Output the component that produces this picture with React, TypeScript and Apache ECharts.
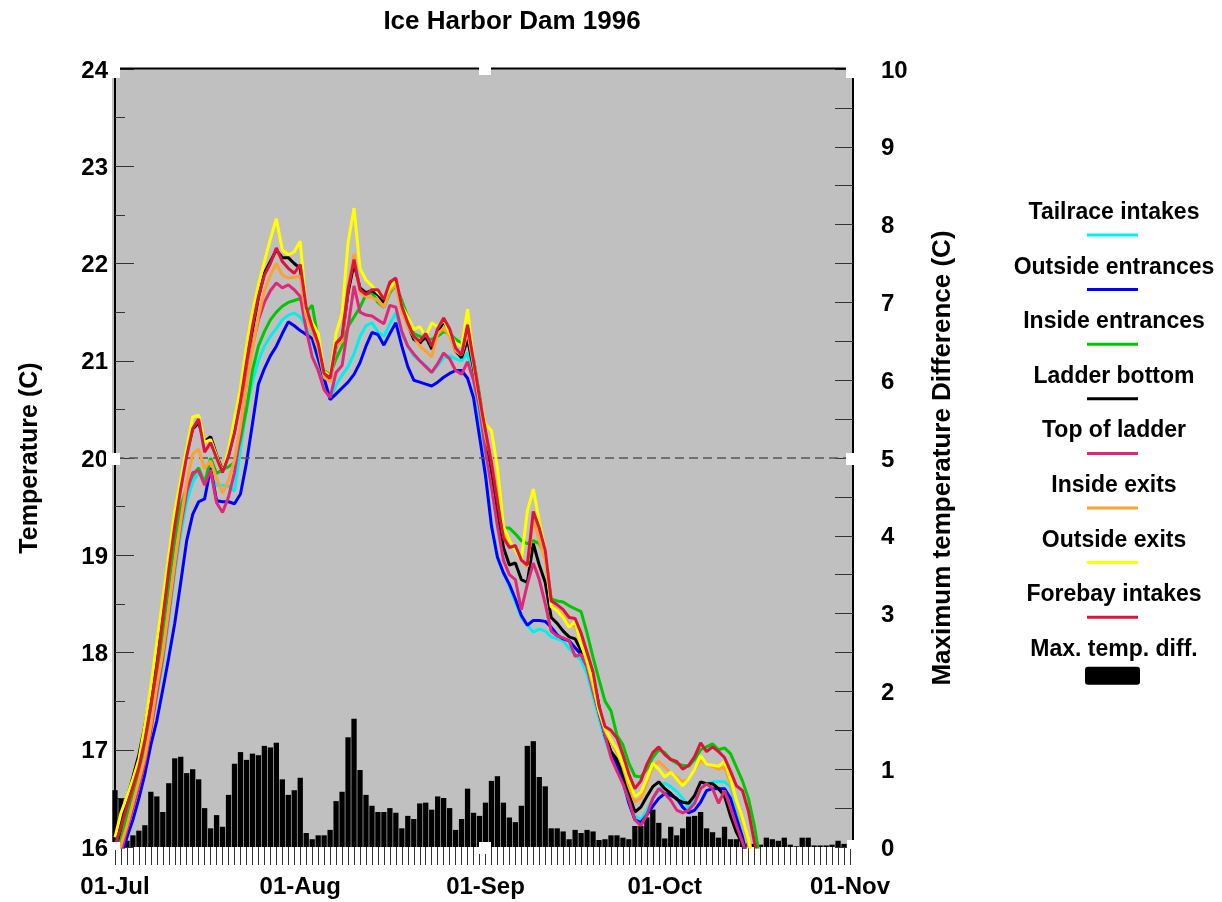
import React, { useEffect, useRef } from 'react';
import * as echarts from 'echarts';

const seriesNames = ['Tailrace intakes', 'Outside entrances', 'Inside entrances', 'Ladder bottom', 'Top of ladder', 'Inside exits', 'Outside exits', 'Forebay intakes'];
const seriesColors = ['#00F0F0', '#0000FF', '#00C800', '#000000', '#E0287A', '#FFA030', '#FFFF00', '#DC143C'];
const barName = 'Max. temp. diff.';

// daily values, index 0 = 01-Jul-1996
const tailrace = [15.7, 15.95, 16.20, 16.42, 16.68, 16.92, 17.22, 17.55, 17.90, 18.35,
  18.82, 19.22, 19.55, 19.75, 19.85, 19.78, 19.81, 19.72, 19.72, 19.71,
  19.66, 20.09, 20.50, 20.78, 21.00, 21.15, 21.25, 21.33, 21.42, 21.47,
  21.49, 21.45, 21.35, 21.20, 21.00, 20.80, 20.60, 20.75, 20.85, 20.94,
  21.07, 21.25, 21.36, 21.39, 21.30, 21.25, 21.38, 21.49, 21.28, 21.15,
  21.05, 21.00, 20.95, 20.88, 20.95, 21.03, 21.05, 21.02, 21.00, 21.08,
  20.80, 20.38, 19.85, 19.32, 18.98, 18.82, 18.68, 18.52, 18.36, 18.28,
  18.21, 18.24, 18.22, 18.16, 18.14, 18.12, 18.04, 17.98, 17.92, 17.78,
  17.55, 17.32, 17.10, 16.95, 16.82, 16.65, 16.45, 16.32, 16.28, 16.38,
  16.50, 16.58, 16.66, 16.62, 16.57, 16.50, 16.40, 16.48, 16.60, 16.65,
  16.67, 16.67, 16.67, 16.62, 16.35, 16.12, 15.85];
const outsideEntrances = [15.6, 15.90, 16.10, 16.28, 16.50, 16.75, 17.05, 17.30, 17.62, 17.95,
  18.30, 18.72, 19.15, 19.42, 19.55, 19.58, 19.90, 19.56, 19.55, 19.55,
  19.53, 19.63, 19.95, 20.35, 20.76, 20.92, 21.05, 21.15, 21.28, 21.40,
  21.36, 21.31, 21.27, 21.23, 21.02, 20.82, 20.60, 20.66, 20.72, 20.78,
  20.86, 20.98, 21.15, 21.29, 21.27, 21.16, 21.28, 21.39, 21.15, 20.94,
  20.80, 20.78, 20.76, 20.74, 20.78, 20.83, 20.87, 20.90, 20.90, 20.82,
  20.62, 20.22, 19.82, 19.30, 18.98, 18.82, 18.70, 18.55, 18.38, 18.28,
  18.33, 18.33, 18.32, 18.26, 18.18, 18.14, 18.12, 18.05, 17.98, 17.86,
  17.62, 17.38, 17.15, 16.98, 16.85, 16.68, 16.45, 16.28, 16.25, 16.33,
  16.42, 16.50, 16.55, 16.53, 16.50, 16.41, 16.35, 16.38, 16.46, 16.58,
  16.60, 16.60, 16.60, 16.50, 16.30, 16.10, 15.85];
const insideEntrances = [15.9, 16.08, 16.32, 16.55, 16.78, 17.02, 17.35, 17.75, 18.20, 18.70,
  19.15, 19.50, 19.70, 19.82, 19.90, 19.74, 20.00, 19.84, 19.88, 19.91,
  19.95, 20.19, 20.50, 20.90, 21.15, 21.30, 21.42, 21.50, 21.56, 21.60,
  21.62, 21.64, 21.50, 21.57, 21.22, 20.90, 20.85, 21.02, 21.15, 21.35,
  21.45, 21.55, 21.68, 21.70, 21.60, 21.55, 21.70, 21.78, 21.62, 21.45,
  21.28, 21.25, 21.22, 21.22, 21.25, 21.30, 21.28, 21.22, 21.18, 21.20,
  21.02, 20.65, 20.25, 19.95, 19.60, 19.28, 19.28, 19.22, 19.15, 19.12,
  19.15, 19.12, 19.00, 18.55, 18.53, 18.52, 18.48, 18.45, 18.42, 18.20,
  17.95, 17.72, 17.50, 17.40, 17.15, 17.05, 16.86, 16.73, 16.72, 16.80,
  16.92, 17.00, 16.97, 16.90, 16.86, 16.84, 16.83, 16.90, 17.00, 17.03,
  17.06, 17.00, 17.02, 16.96, 16.82, 16.68, 16.50, 16.22, 15.85];
const ladderBottom = [16.08, 16.28, 16.50, 16.72, 16.95, 17.25, 17.60, 17.95, 18.45, 18.95,
  19.40, 19.75, 20.05, 20.30, 20.36, 20.17, 20.22, 20.03, 19.87, 20.03,
  20.28, 20.62, 21.00, 21.32, 21.65, 21.90, 22.02, 22.14, 22.06, 22.06,
  22.00, 21.95, 21.47, 21.35, 21.15, 20.85, 20.80, 21.15, 21.22, 21.70,
  22.00, 21.75, 21.70, 21.72, 21.68, 21.60, 21.78, 21.82, 21.54, 21.37,
  21.22, 21.18, 21.25, 21.12, 21.30, 21.40, 21.30, 21.10, 21.03, 21.22,
  20.92, 20.55, 20.18, 19.85, 19.45, 19.08, 18.90, 18.92, 18.75, 18.72,
  19.12, 18.90, 18.72, 18.36, 18.30, 18.22, 18.16, 18.14, 18.02, 17.90,
  17.75, 17.45, 17.15, 16.98, 16.90, 16.75, 16.55, 16.36, 16.41, 16.52,
  16.62, 16.67, 16.60, 16.55, 16.49, 16.46, 16.45, 16.53, 16.67, 16.65,
  16.65, 16.60, 16.52, 16.32, 16.15, 16.03, 15.80];
const topOfLadder = [15.7, 15.95, 16.18, 16.40, 16.62, 16.87, 17.20, 17.58, 17.95, 18.40,
  18.88, 19.30, 19.65, 19.85, 19.87, 19.72, 19.88, 19.54, 19.44, 19.60,
  19.85, 20.26, 20.80, 21.15, 21.42, 21.60, 21.72, 21.80, 21.75, 21.78,
  21.73, 21.66, 21.32, 21.04, 20.90, 20.70, 20.62, 20.88, 20.95, 21.35,
  21.77, 21.50, 21.47, 21.46, 21.42, 21.38, 21.57, 21.55, 21.30, 21.15,
  21.07, 21.00, 20.94, 20.88, 20.97, 21.08, 21.02, 20.90, 20.86, 20.99,
  20.80, 20.52, 20.08, 19.70, 19.30, 18.95, 18.80, 18.75, 18.44, 18.70,
  18.92, 18.75, 18.50, 18.22, 18.17, 18.15, 18.12, 17.96, 17.98, 17.85,
  17.60, 17.38, 17.15, 16.92, 16.78, 16.65, 16.48, 16.28, 16.22, 16.33,
  16.50, 16.60, 16.55, 16.48, 16.38, 16.35, 16.38, 16.45, 16.60, 16.65,
  16.60, 16.45, 16.58, 16.40, 16.22, 16.05, 15.85];
const insideExits = [15.8, 16.02, 16.22, 16.45, 16.68, 16.92, 17.25, 17.65, 18.00, 18.45,
  18.92, 19.35, 19.75, 20.04, 20.09, 19.89, 19.97, 19.79, 19.64, 19.77,
  19.98, 20.33, 20.75, 21.12, 21.45, 21.72, 21.88, 22.00, 21.88, 21.85,
  21.86, 21.87, 21.45, 21.30, 21.12, 20.83, 20.78, 21.15, 21.20, 21.75,
  22.10, 21.70, 21.66, 21.65, 21.62, 21.55, 21.72, 21.78, 21.50, 21.35,
  21.25, 21.15, 21.10, 21.04, 21.28, 21.33, 21.26, 21.10, 21.06, 21.30,
  20.95, 20.58, 20.22, 19.98, 19.62, 19.25, 19.10, 19.08, 18.95, 18.88,
  19.38, 19.15, 18.95, 18.48, 18.44, 18.38, 18.28, 18.28, 18.10, 17.90,
  17.65, 17.40, 17.20, 17.08, 16.98, 16.82, 16.62, 16.46, 16.50, 16.66,
  16.82, 16.88, 16.82, 16.76, 16.72, 16.67, 16.70, 16.80, 16.90, 16.85,
  16.83, 16.80, 16.82, 16.65, 16.45, 16.25, 16.02, 15.80];
const outsideExits = [16.10, 16.35, 16.52, 16.70, 16.90, 17.25, 17.65, 18.10, 18.55, 19.00,
  19.45, 19.78, 20.10, 20.42, 20.44, 20.16, 20.19, 20.02, 19.85, 20.09,
  20.40, 20.72, 21.15, 21.50, 21.78, 22.02, 22.25, 22.46, 22.14, 22.09,
  22.12, 22.23, 21.52, 21.39, 21.28, 20.89, 20.84, 21.28, 21.49, 22.21,
  22.57, 21.95, 21.83, 21.77, 21.70, 21.64, 21.75, 21.83, 21.56, 21.45,
  21.32, 21.35, 21.25, 21.39, 21.35, 21.42, 21.28, 21.18, 21.15, 21.53,
  21.00, 20.60, 20.35, 20.28, 19.90, 19.30, 19.15, 19.05, 18.95, 19.45,
  19.68, 19.35, 19.05, 18.47, 18.43, 18.36, 18.26, 18.32, 18.08, 17.92,
  17.70, 17.40, 17.22, 17.10, 17.00, 16.85, 16.68, 16.52, 16.56, 16.70,
  16.86, 16.80, 16.72, 16.77, 16.70, 16.63, 16.70, 16.80, 16.94, 16.85,
  16.84, 16.83, 16.88, 16.70, 16.48, 16.30, 16.08, 15.80];
const forebayIntakes = [16.02, 16.20, 16.42, 16.62, 16.82, 17.10, 17.45, 17.85, 18.35, 18.85,
  19.30, 19.68, 20.02, 20.30, 20.40, 20.06, 20.16, 20.00, 19.85, 20.02,
  20.26, 20.58, 20.98, 21.35, 21.66, 21.88, 22.00, 22.16, 22.02, 21.95,
  21.90, 21.99, 21.55, 21.35, 21.18, 20.87, 20.82, 21.18, 21.25, 21.73,
  22.04, 21.73, 21.68, 21.73, 21.73, 21.63, 21.81, 21.85, 21.56, 21.39,
  21.25, 21.20, 21.28, 21.15, 21.33, 21.44, 21.33, 21.13, 21.06, 21.37,
  21.00, 20.62, 20.28, 19.95, 19.55, 19.18, 19.08, 19.10, 18.95, 18.90,
  19.45, 19.28, 19.05, 18.53, 18.49, 18.44, 18.36, 18.35, 18.20, 18.00,
  17.80, 17.45, 17.24, 17.20, 17.12, 16.95, 16.75, 16.60, 16.68, 16.85,
  16.97, 17.03, 16.95, 16.90, 16.88, 16.80, 16.84, 16.93, 17.07, 16.98,
  17.03, 16.98, 16.92, 16.78, 16.63, 16.58, 16.37, 16.05, 15.75];
const maxTempDiff = [0.73, 0.62, 0.08, 0.15, 0.21, 0.28, 0.71, 0.65, 0.45, 0.82,
  1.14, 1.16, 0.95, 1.00, 0.87, 0.50, 0.24, 0.41, 0.26, 0.67,
  1.07, 1.22, 1.12, 1.20, 1.18, 1.30, 1.28, 1.34, 0.87, 0.67,
  0.73, 0.89, 0.18, 0.10, 0.15, 0.15, 0.22, 0.59, 0.71, 1.41,
  1.65, 0.99, 0.67, 0.53, 0.45, 0.45, 0.50, 0.44, 0.24, 0.40,
  0.36, 0.56, 0.57, 0.48, 0.65, 0.63, 0.50, 0.22, 0.36, 0.75,
  0.44, 0.40, 0.57, 0.85, 0.91, 0.57, 0.38, 0.32, 0.53, 1.30,
  1.36, 0.90, 0.78, 0.24, 0.24, 0.20, 0.10, 0.22, 0.18, 0.22,
  0.20, 0.09, 0.10, 0.15, 0.15, 0.12, 0.10, 0.27, 0.27, 0.38,
  0.48, 0.31, 0.11, 0.26, 0.15, 0.24, 0.39, 0.40, 0.45, 0.24,
  0.19, 0.12, 0.26, 0.10, 0.10, 0.07, 0.05, 0.04, 0.03, 0.12,
  0.10, 0.08, 0.12, 0.03, 0.01, 0.12, 0.12, 0.02, 0.02, 0.02,
  0.03, 0.08, 0.04];

const tickDays = [0, 31, 62, 92, 123];
const tickLabels = ['01-Jul', '01-Aug', '01-Sep', '01-Oct', '01-Nov'];

const lineData = [tailrace, outsideEntrances, insideEntrances, ladderBottom, topOfLadder, insideExits, outsideExits, forebayIntakes];

const FONT = "'Liberation Sans', Arial, sans-serif";

export default function App() {
  const ref = useRef<HTMLDivElement>(null);
  useEffect(() => {
    const chart = echarts.init(ref.current as HTMLDivElement, null, { renderer: 'svg' });
    const ts = (size: number) => ({ fontFamily: FONT, fontWeight: 'bold' as const, fontSize: size, color: '#000' });

    const graphics: any[] = [
      { type: 'rect', z: -10, silent: true, shape: { x: 112, y: 69, width: 741, height: 778 }, style: { fill: '#C0C0C0' } },
      { type: 'line', z: 10, silent: true, shape: { x1: 112, y1: 68.5, x2: 853, y2: 68.5 }, style: { stroke: '#000', lineWidth: 2 } },
    ];
    const whites = [
      [108, 63, 12, 15], [479, 63, 12, 12], [846, 63, 12, 15],
      [106, 453, 14, 12], [846, 453, 14, 12],
      [108, 842, 12, 8], [479, 842, 12, 12], [847, 840, 10, 9],
    ];
    whites.forEach(([x, y, w, h]) => graphics.push({ type: 'rect', z: 50, silent: true, shape: { x, y, width: w, height: h }, style: { fill: '#fff' } }));

    const legendNames = [...seriesNames, barName];
    legendNames.forEach((n, i) => {
      const y = 211 + i * 54.6;
      graphics.push({ type: 'text', x: 1114, y, z: 10, style: { text: n, fill: '#000', fontFamily: FONT, fontWeight: 'bold', fontSize: 23, align: 'center', verticalAlign: 'middle' } });
      if (i < seriesNames.length) {
        graphics.push({ type: 'line', z: 10, shape: { x1: 1087, y1: y + 24, x2: 1138, y2: y + 24 }, style: { stroke: seriesColors[i], lineWidth: 3 } });
      } else {
        graphics.push({ type: 'rect', z: 10, shape: { x: 1085, y: y + 19, width: 55, height: 18, r: 3 }, style: { fill: '#000' } });
      }
    });

    const series: any[] = [
      {
        name: barName, type: 'bar', xAxisIndex: 0, yAxisIndex: 1, barWidth: 5.3,
        itemStyle: { color: '#000' }, z: 1,
        data: maxTempDiff.map((v, i) => [i, v]),
      },
    ];
    lineData.forEach((arr, k) => {
      const s: any = {
        name: seriesNames[k], type: 'line', xAxisIndex: 0, yAxisIndex: 0,
        symbol: 'none', showSymbol: false, clip: true,
        lineStyle: { color: seriesColors[k], width: 3 }, itemStyle: { color: seriesColors[k] },
        z: 3 + k,
        data: arr.map((v, i) => [i, v]),
      };
      if (k === 0) {
        s.markLine = {
          silent: true, symbol: ['none', 'none'], label: { show: false },
          lineStyle: { color: '#555', type: [9, 5], width: 1.5 },
          data: [{ yAxis: 20 }],
        };
      }
      series.push(s);
    });

    chart.setOption({
      animation: false,
      title: {
        text: 'Ice Harbor Dam 1996', left: 512, top: 7, textAlign: 'center', padding: 0,
        textStyle: ts(26),
      },
      graphic: graphics,
      grid: { left: 115, top: 69, width: 735, height: 778 },
      xAxis: {
        type: 'value', min: 0, max: 123, interval: 1,
        axisLine: { show: false },
        splitLine: { show: false },
        axisTick: { show: true, inside: false, length: 18, lineStyle: { color: '#333', width: 1 } },
        axisLabel: {
          ...ts(24), margin: 26, showMinLabel: true, showMaxLabel: true,
          formatter: (v: number) => {
            const idx = tickDays.indexOf(Math.round(v));
            return idx >= 0 ? tickLabels[idx] : '';
          },
        },
      },
      yAxis: [
        {
          type: 'value', min: 16, max: 24, interval: 1, position: 'left', offset: 3,
          name: 'Temperature (C)', nameLocation: 'middle', nameRotate: 90, nameGap: 72,
          nameTextStyle: ts(25),
          axisLine: { show: true, lineStyle: { color: '#000', width: 2 } },
          axisTick: { show: true, inside: true, length: 19, lineStyle: { color: '#333' } },
          minorTick: { show: true, splitNumber: 2, length: 10, lineStyle: { color: '#333' } },
          splitLine: { show: false },
          axisLabel: { ...ts(24), margin: 4 },
        },
        {
          type: 'value', min: 0, max: 10, interval: 0.5, position: 'right', offset: 3,
          name: 'Maximum temperature Difference (C)', nameLocation: 'middle', nameRotate: 90, nameGap: 75,
          nameTextStyle: ts(26),
          axisLine: { show: true, lineStyle: { color: '#000', width: 2 } },
          axisTick: { show: true, inside: true, length: 18, lineStyle: { color: '#333' } },
          splitLine: { show: false },
          axisLabel: {
            ...ts(24), margin: 28,
            formatter: (v: number) => (Math.abs(v - Math.round(v)) < 1e-9 ? String(Math.round(v)) : ''),
          },
        },
      ],
      series,
    });
    return () => chart.dispose();
  }, []);
  return <div ref={ref} style={{ position: 'fixed', left: 0, top: 0, width: 1222, height: 902 }} />;
}
